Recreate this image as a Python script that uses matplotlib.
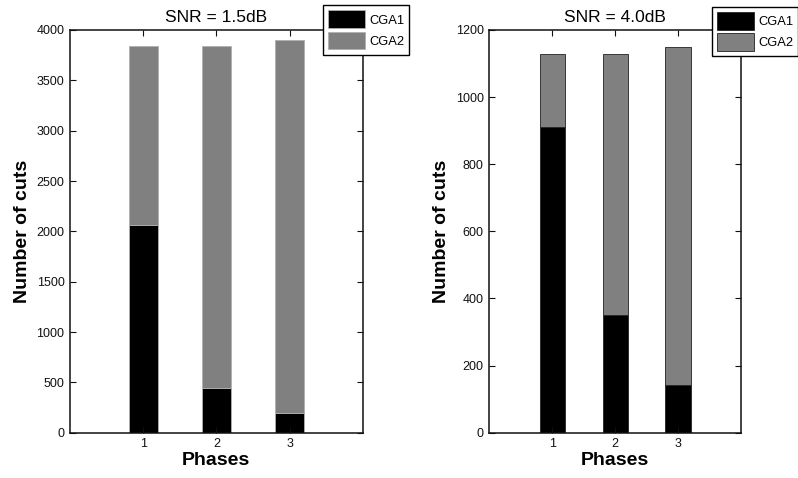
import matplotlib
matplotlib.use("Agg")
import matplotlib.pyplot as plt
import numpy as np

plt.rcParams['font.family'] = ['Liberation Sans', 'DejaVu Sans']

phases = [1, 2, 3]
phase_labels = ['1', '2', '3']
series_names = ['CGA1', 'CGA2']

# SNR = 1.5 dB
cga1_low = [2065, 448, 193]
cga2_low = [1775, 3392, 3712]
yticks_low = [0, 500, 1000, 1500, 2000, 2500, 3000, 3500, 4000]

# SNR = 4.0 dB
cga1_high = [910, 350, 142]
cga2_high = [217, 777, 1008]
yticks_high = [0, 200, 400, 600, 800, 1000, 1200]

W, H = 798, 478
fig = plt.figure(figsize=(W / 100, H / 100), dpi=100)

def px_axes(x0, x1, y0, y1):
    return fig.add_axes([x0 / W, 1 - y1 / H, (x1 - x0) / W, (y1 - y0) / H])

ax_l = px_axes(70, 362.7, 30, 432.7)
ax_r = px_axes(489.3, 741, 30, 432.7)

def draw(ax, c1, c2, yticks, title, edge, leg_xy):
    b1 = ax.bar(phases, c1, width=0.4, color='black', edgecolor=edge, linewidth=0.6)
    b2 = ax.bar(phases, c2, width=0.4, bottom=c1, color='#808080', edgecolor=edge, linewidth=0.6)
    ax.set_xlim(0, 4)
    ax.set_ylim(yticks[0], yticks[-1])
    ax.set_xticks(phases)
    ax.set_xticklabels(phase_labels)
    ax.set_yticks(yticks)
    ax.tick_params(direction='in', top=True, right=True, length=4, width=0.8,
                   labelsize=9, colors='#111111', pad=4)
    for s in ax.spines.values():
        s.set_linewidth(1.1)
        s.set_color('#111111')
    ax.set_title(title, fontsize=12.5, pad=6)
    ax.set_xlabel('Phases', fontsize=14, fontweight='bold', labelpad=1)
    ax.set_ylabel('Number of cuts', fontsize=14, fontweight='bold', labelpad=4)
    leg = ax.legend([b1, b2], series_names, loc='upper left',
                    bbox_to_anchor=(leg_xy[0] / W, 1 - leg_xy[1] / H),
                    bbox_transform=fig.transFigure, borderaxespad=0,
                    fontsize=9.3, handlelength=2.8, handleheight=1.75,
                    handletextpad=0.35, labelspacing=0.25, borderpad=0.4,
                    fancybox=False, framealpha=1, edgecolor='black')
    leg.get_frame().set_linewidth(1.0)

draw(ax_l, cga1_low, cga2_low, yticks_low, 'SNR = 1.5dB', '#b0b0b0', (323.3, 5.3))
draw(ax_r, cga1_high, cga2_high, yticks_high, 'SNR = 4.0dB', '#222222', (712.3, 7.0))

fig.savefig('out.png', dpi=100)
